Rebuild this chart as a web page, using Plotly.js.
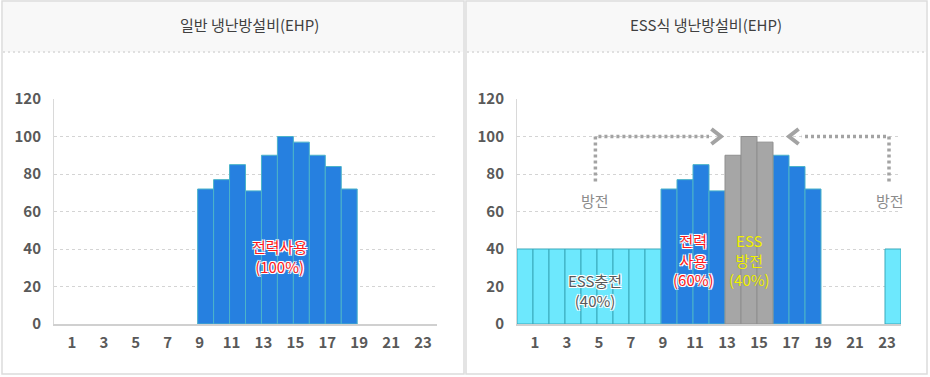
<!DOCTYPE html>
<html>
<head>
<meta charset="utf-8">
<script src="https://cdn.plot.ly/plotly-3.0.1.min.js"></script>
<style>
html,body{margin:0;padding:0;background:#fff;}
#chart{width:930px;height:377px;}
</style>
</head>
<body>
<div id="chart"></div>
<script>
// ---- data ----
const hours = [1,2,3,4,5,6,7,8,9,10,11,12,13,14,15,16,17,18,19,20,21,22,23,24];
const tickHours = [1,3,5,7,9,11,13,15,17,19,21,23];
const tickLabels = ["1","3","5","7","9","11","13","15","17","19","21","23"];
const yTicks = [0,20,40,60,80,100,120];
// left chart: conventional EHP load
const loadEHP = [null,null,null,null,null,null,null,null,null,72,77,85,71,90,100,97,90,84,72,null,null,null,null,null];
// right chart: ESS system
const essCharge = [40,40,40,40,40,40,40,40,40,null,null,null,null,null,null,null,null,null,null,null,null,null,null,40];
const gridUse = [null,null,null,null,null,null,null,null,null,72,77,85,71,null,null,null,90,84,72,null,null,null,null,null];
const essDischarge = [null,null,null,null,null,null,null,null,null,null,null,null,null,90,100,97,null,null,null,null,null,null,null,null];
const titles = ["일반 냉난방설비(EHP)", "ESS식 냉난방설비(EHP)"];

// ---- helpers (pixel -> paper) ----
const W = 930, H = 377;
const px = x => x / W;
const py = y => 1 - y / H;

const FONT = '"Noto Sans CJK KR", "Noto Sans", sans-serif';
const BLUE = '#2680e0', CYAN = '#6de8fd', GRAY = '#a6a6a6';

function bar(x, y, color, lineColor, xa, ya, name) {
  return {type:'bar', x:x, y:y, offset:-1, width:1, name:name,
    marker:{color:color, line:{color:lineColor, width:1}},
    xaxis:xa, yaxis:ya, hoverinfo:'x+y', showlegend:false};
}

const traces = [
  bar(hours, loadEHP, BLUE, '#4bb3c9', 'x', 'y', '전력사용'),
  bar(hours, essCharge, CYAN, '#3ba9bb', 'x2', 'y2', 'ESS충전'),
  bar(hours, gridUse, BLUE, '#4bb3c9', 'x2', 'y2', '전력사용'),
  bar(hours, essDischarge, GRAY, '#8e8e8e', 'x2', 'y2', 'ESS방전')
];

function xaxis(domain, anchor) {
  return {domain:domain, anchor:anchor, range:[0,24], tickmode:'array',
    tickvals:tickHours, ticktext:tickLabels, showgrid:false, zeroline:false,
    showline:true, linecolor:'#d0d0d0', linewidth:1.5, ticks:'',
    ticklabelstandoff:4, ticklabelshift:2,
    tickfont:{family:FONT, size:15, color:'#595959', weight:'bold'}, fixedrange:true};
}
function yaxis(anchor) {
  return {domain:[py(324), py(99)], anchor:anchor, range:[0,120], tickmode:'array',
    tickvals:yTicks, showgrid:true, gridcolor:'#d4d4d4', griddash:'dot', gridwidth:1,
    zeroline:false, showline:true, linecolor:'#d9d9d9', linewidth:1, ticks:'',
    ticklabelstandoff:9,
    tickfont:{family:FONT, size:15, color:'#595959', weight:'bold'}, fixedrange:true};
}

const panelShapes = [];
[[2,464],[466,927]].forEach(([a,b]) => {
  panelShapes.push({type:'rect', xref:'paper', yref:'paper', x0:px(a), x1:px(b), y0:py(374), y1:py(1),
    line:{color:'#dcdcdc', width:1.5}, fillcolor:'#ffffff', layer:'below'});
  panelShapes.push({type:'rect', xref:'paper', yref:'paper', x0:px(a+1), x1:px(b-1), y0:py(52), y1:py(2),
    line:{width:0}, fillcolor:'#f8f8f8', layer:'below'});
  panelShapes.push({type:'line', xref:'paper', yref:'paper', x0:px(a+1), x1:px(b-1), y0:py(52), y1:py(52),
    line:{color:'#d8d8d8', width:1.5, dash:'2px,3px'}, layer:'below'});
});

const ARROW = '#a3a3a3';
const arrowShapes = [
  {type:'path', xref:'x2', yref:'y2', path:'M 4.9,76 L 4.9,100 L 12.0,100',
    line:{color:ARROW, width:3.5, dash:'3px,3px'}},
  {type:'path', xref:'x2', yref:'y2', path:'M 12.15,104 L 12.75,100 L 12.15,96',
    line:{color:ARROW, width:4}},
  {type:'path', xref:'x2', yref:'y2', path:'M 23.25,76 L 23.25,100 L 17.8,100',
    line:{color:ARROW, width:3.5, dash:'3px,3px'}},
  {type:'path', xref:'x2', yref:'y2', path:'M 17.6,104 L 17.0,100 L 17.6,96',
    line:{color:ARROW, width:4}}
];

const glow = '-1px -1px 0 #fff, 1px -1px 0 #fff, -1px 1px 0 #fff, 1px 1px 0 #fff, 0 0 2px #fff';
function label(text, x, y, xref, yref, color, shadow) {
  return {text:text, x:x, y:y, xref:xref, yref:yref, showarrow:false,
    xanchor:'center', yanchor:'middle',
    font:{family:FONT, size:15, color:color, shadow:shadow || 'none'}};
}

const annotations = [
  {text:titles[0], xref:'paper', yref:'paper', x:px(249), y:py(24), showarrow:false,
    xanchor:'center', yanchor:'middle', font:{family:FONT, size:15, color:'#404040'}},
  {text:titles[1], xref:'paper', yref:'paper', x:px(706), y:py(24), showarrow:false,
    xanchor:'center', yanchor:'middle', font:{family:FONT, size:15, color:'#404040'}},
  label('전력사용<br>(100%)', 14.1, 36, 'x', 'y', '#ff1a1a', glow),
  label('ESS충전<br>(40%)', 4.9, 18, 'x2', 'y2', '#595959', glow),
  label('전력<br>사용<br>(60%)', 11.05, 34, 'x2', 'y2', '#ff1a1a', glow),
  label('ESS<br>방전<br>(40%)', 14.5, 34, 'x2', 'y2', '#f2f200', '0 0 1px #888'),
  label('방전', 4.9, 66, 'x2', 'y2', '#8c8c8c'),
  label('방전', 23.3, 66, 'x2', 'y2', '#8c8c8c')
];

const layout = {
  width:W, height:H, margin:{l:0,r:0,t:0,b:0},
  paper_bgcolor:'#ffffff', plot_bgcolor:'rgba(0,0,0,0)',
  barmode:'overlay', bargap:0,
  font:{family:FONT},
  xaxis: xaxis([px(54), px(437)], 'y'),
  yaxis: yaxis('x'),
  xaxis2: xaxis([px(517), px(901)], 'y2'),
  yaxis2: yaxis('x2'),
  shapes: panelShapes.concat(arrowShapes),
  annotations: annotations,
  showlegend:false
};

Plotly.newPlot('chart', traces, layout, {displayModeBar:false, staticPlot:true});
</script>
</body>
</html>
